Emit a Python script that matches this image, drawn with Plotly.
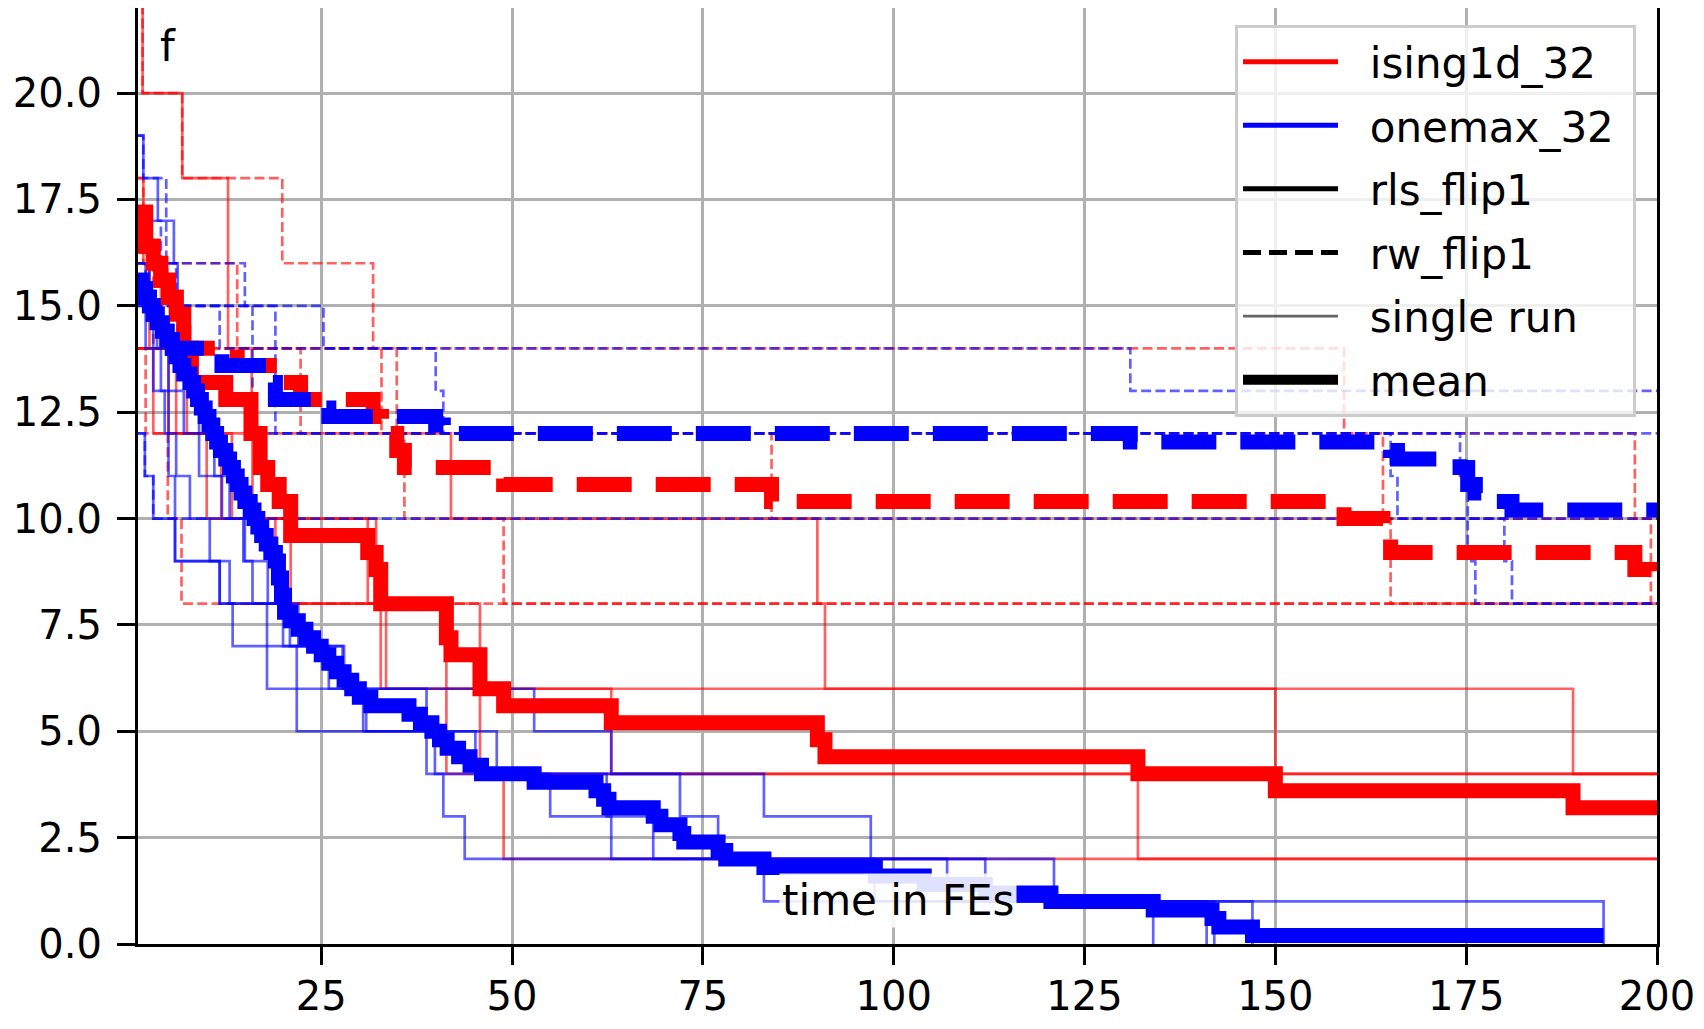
import plotly.graph_objects as go

# ---------------- data (time in FEs, best f so far) ----------------
# ising1d_32 / rls_flip1 : single runs
ising_rls_x = [
    [1, 1.6, 6.8, 12.8, 15.9, 42, 90, 91, 189],
    [1, 1.7, 4, 7.4, 16, 31.1, 32.8, 150],
    [1, 2.5, 6, 13.3, 19, 45.8, 132],
    [1, 3, 11.9, 32.2, 41.4, 63],
    [1, 5, 10, 21, 33.5, 41.4, 48.9],
]
ising_rls_f = [
    [24, 20, 18, 14, 12, 10, 8, 6, 4],
    [18, 16, 14, 12, 10, 8, 6, 4],
    [16, 14, 12, 10, 8, 4, 2],
    [14, 12, 10, 8, 6, 4],
    [14, 12, 10, 8, 6, 4, 2],
]
# ising1d_32 / rw_flip1 : single runs
ising_rw_x = [
    [1, 1.6, 6.8, 19.9, 31.8, 159, 164.1, 165.1],
    [1, 1.7, 14, 22.3, 197.1, 199.2],
    [1, 3, 32.9, 84],
    [1, 34.9, 35.9, 48.9],
    [1, 2, 4.9, 6.7],
]
ising_rw_f = [
    [24, 20, 18, 16, 14, 12, 10, 8],
    [18, 16, 14, 12, 10, 8],
    [16, 14, 12, 10],
    [14, 12, 10, 8],
    [14, 12, 10, 8],
]
# onemax_32 / rls_flip1 : single runs (end when the optimum 0 is reached)
onemax_rls_x = [
    [1, 1.7, 3.6, 5.7, 6.2, 7.8, 9, 11, 13, 14.8, 16, 17.9, 21.8, 30.5, 38.8, 41, 43.8, 121, 193],
    [1, 2, 3, 4, 5, 5.85, 11.7, 13.4, 17.9, 21.8, 48, 55, 63, 83, 134],
    [1, 2, 3, 4.5, 6, 7.8, 10.4, 13, 20, 27.8, 30.9, 39.9, 62.4, 68.5, 107, 141],
    [1, 1.9, 3.0, 5.85, 11.7, 20.9, 28, 38.8, 45.2, 72, 77, 97.5, 142],
    [1, 2.5, 3.5, 5, 7, 9, 12, 15, 18, 22, 26, 52.9, 63, 83, 97, 112, 147],
]
onemax_rls_f = [
    [19, 18, 17, 16, 14, 13, 12, 11, 10, 9, 8, 7, 6, 5, 4, 3, 2, 1, 0],
    [16, 15, 14, 13, 11, 9, 8, 7, 6, 5, 4, 3, 2, 1, 0],
    [15, 14, 13, 12, 11, 10, 9, 8, 7, 6, 5, 4, 3, 2, 1, 0],
    [12, 11, 10, 9, 8, 7, 6, 5, 4, 3, 2, 1, 0],
    [16, 15, 14, 13, 12, 11, 10, 9, 8, 7, 6, 5, 4, 3, 2, 1, 0],
]
# onemax_32 / rw_flip1 : single runs
onemax_rw_x = [
    [1, 1.7, 4.7, 15, 25.3, 131],
    [1, 4, 6, 11.7, 40, 41],
    [1, 2, 16, 165.1, 166],
    [1, 19, 174.2, 175.2, 176.2],
    [1, 1.9, 3.0, 180, 181],
]
onemax_rw_f = [
    [19, 18, 16, 15, 14, 13],
    [17, 16, 15, 14, 13, 12],
    [16, 15, 12, 11, 10],
    [15, 12, 11, 9, 8],
    [12, 11, 10, 9, 8],
]

# means
ising_rls_mean_x = [1, 2, 3, 4, 5, 6, 7, 8, 12.5, 15.8, 17, 18, 19.5, 21, 31.1, 32.2, 32.8,
                    41.4, 42, 45.8, 48.9, 63, 90, 91, 132, 150, 189, 200]
ising_rls_mean_f = [17.2, 16.4, 16.0, 15.6, 15.2, 14.8, 14.0, 13.2, 12.8, 12.0, 11.2, 10.8, 10.4,
                    9.6, 9.2, 8.8, 8.0, 7.2, 6.8, 6.0, 5.6, 5.2, 4.8, 4.4, 4.0, 3.6, 3.2, 3.2]
ising_rw_mean_x = [1, 2, 3, 4, 5, 6, 7, 14, 19.9, 22.3, 31.8, 32.9, 34.9, 35.9, 48.9, 84,
                   159, 164.1, 165.1, 197.1, 199.2, 200]
ising_rw_mean_f = [17.2, 16.4, 16.0, 15.6, 15.2, 14.8, 14.0, 13.6, 13.2, 12.8, 12.4, 12.0, 11.6,
                   11.2, 10.8, 10.4, 10.0, 9.6, 9.2, 8.8, 8.4, 8.4]
onemax_rls_mean_x = [1, 1.5, 2, 2.5, 3, 3.5, 4.2, 4.8, 5.5, 6, 6.5, 7, 7.8, 8.3, 8.8, 9.3, 9.8,
                     10.3, 10.8, 11.3, 11.8, 12.5, 13, 13.5, 14, 14.5, 15, 15.7, 16.2, 16.7,
                     17.2, 17.8, 18.4, 19, 19.4, 19.8, 20.2, 21, 22, 23, 24, 25, 26, 27, 28,
                     29, 30, 31.5, 36.5, 38, 39.5, 40.5, 41.5, 43, 44.5, 46, 52.9, 61, 62,
                     62.7, 68.5, 69.5, 72, 72.5, 77, 78, 83, 97.6, 104, 112, 120.6, 134,
                     141.7, 142.6, 147, 193]
onemax_rls_mean_f = [15.6, 15.4, 15.2, 15.0, 14.8, 14.6, 14.4, 14.2, 14.0, 13.8, 13.6, 13.4,
                     13.2, 13.0, 12.8, 12.6, 12.4, 12.2, 12.0, 11.8, 11.6, 11.4, 11.2, 11.0,
                     10.8, 10.6, 10.4, 10.2, 10.0, 9.8, 9.6, 9.4, 9.2, 9.0, 8.6, 8.2, 7.8,
                     7.6, 7.4, 7.2, 7.0, 6.8, 6.6, 6.4, 6.2, 6.0, 5.8, 5.6, 5.4, 5.2, 5.0,
                     4.8, 4.6, 4.4, 4.2, 4.0, 3.8, 3.6, 3.4, 3.2, 3.0, 2.8, 2.6, 2.4, 2.2,
                     2.0, 1.8, 1.6, 1.4, 1.2, 1.0, 0.8, 0.6, 0.4, 0.2, 0.2]
onemax_rw_mean_x = [1, 1.5, 2, 2.5, 3, 3.5, 4.2, 4.8, 5.5, 12, 18, 19, 25.3, 26, 40, 41, 131,
                    165.1, 166, 174.2, 175.2, 176.2, 180, 181, 200]
onemax_rw_mean_f = [15.6, 15.4, 15.2, 15.0, 14.8, 14.6, 14.4, 14.2, 14.0, 13.6, 13.2, 12.8,
                    12.6, 12.4, 12.2, 12.0, 11.8, 11.6, 11.4, 11.2, 10.8, 10.6, 10.4, 10.2, 10.2]

x_ticks = [25, 50, 75, 100, 125, 150, 175, 200]
y_ticks = [0, 2.5, 5, 7.5, 10, 12.5, 15, 17.5, 20]
X_MAX = 200

# ---------------- styles ----------------
RED = "255,0,0"
BLUE = "0,0,255"
THIN = 2.7
THICK = 15
THIN_DASH = "10px,4.3px"
THICK_DASH = "55px,24px"
ALPHA = 0.62
FONT = "DejaVu Sans"
FS_TICK = 40
FS = 42
NB = "\u00a0"

fig = go.Figure()


def add_runs(xs, fs, rgb, dashed):
    for x, f in zip(xs, fs):
        x = list(x)
        f = list(f)
        if f[-1] != 0:  # run continues until the end of the time axis
            x.append(X_MAX)
            f.append(f[-1])
        fig.add_trace(go.Scatter(
            x=x, y=f, mode="lines", line_shape="hv", showlegend=False,
            hoverinfo="skip",
            line=dict(color=f"rgba({rgb},{ALPHA})", width=THIN,
                      dash=THIN_DASH if dashed else "solid")))


def add_mean(x, f, rgb, dashed):
    fig.add_trace(go.Scatter(
        x=x, y=f, mode="lines", line_shape="hv", showlegend=False,
        hoverinfo="skip",
        line=dict(color=f"rgb({rgb})", width=THICK,
                  dash=THICK_DASH if dashed else "solid")))


add_runs(ising_rls_x, ising_rls_f, RED, False)
add_runs(ising_rw_x, ising_rw_f, RED, True)
add_runs(onemax_rls_x, onemax_rls_f, BLUE, False)
add_runs(onemax_rw_x, onemax_rw_f, BLUE, True)
add_mean(ising_rls_mean_x, ising_rls_mean_f, RED, False)
add_mean(ising_rw_mean_x, ising_rw_mean_f, RED, True)
add_mean(onemax_rls_mean_x, onemax_rls_mean_f, BLUE, False)
add_mean(onemax_rw_mean_x, onemax_rw_mean_f, BLUE, True)

# legend entries
legend_items = [
    ("ising1d_32", "rgb(255,0,0)", 5, "solid"),
    ("onemax_32", "rgb(0,0,255)", 5, "solid"),
    ("rls_flip1", "black", 5, "solid"),
    ("rw_flip1", "black", 5, "18px,8px"),
    ("single run", "rgba(0,0,0,0.6)", 2.7, "solid"),
    ("mean", "black", 15, "solid"),
]
for i, (name, col, w, d) in enumerate(legend_items):
    fig.add_trace(go.Scatter(
        x=[None], y=[None], mode="lines", name=NB * 2 + name + NB,
        legendgroup=f"g{i}", line=dict(color=col, width=w, dash=d)))

axis_common = dict(
    ticks="outside", ticklen=18, tickwidth=3.3, tickcolor="black",
    showline=True, linewidth=3.3, linecolor="black", mirror=True,
    showgrid=True, gridcolor="#b0b0b0", gridwidth=2.5, zeroline=False,
    tickfont=dict(family=FONT, size=FS_TICK, color="black"),
)

# the page adds an 8px body margin, so the figure is 8px smaller than the window
fig.update_layout(
    width=1696, height=1021,
    margin=dict(l=130, r=47, t=0, b=85, autoexpand=False),
    plot_bgcolor="white", paper_bgcolor="white",
    font=dict(family=FONT, size=FS, color="black"),
    xaxis=dict(range=[1, 200], tickvals=x_ticks, ticklabelstandoff=-3, **axis_common),
    yaxis=dict(range=[0, 22], tickvals=y_ticks, tickformat=".1f", ticklabelstandoff=7,
               **axis_common),
    legend=dict(x=0.7222, y=0.982, xanchor="left", yanchor="top",
                bgcolor="rgba(255,255,255,0.8)", bordercolor="#cccccc", borderwidth=3,
                font=dict(family=FONT, size=FS, color="black"),
                tracegroupgap=6, itemwidth=95),
    annotations=[
        dict(text="f", xref="paper", yref="paper", x=0.013, y=0.9594, xanchor="left",
             yanchor="middle", showarrow=False,
             font=dict(family=FONT, size=FS, color="black")),
        dict(text="time in FEs", xref="paper", yref="paper", x=0.5003, y=0.047,
             xanchor="center", yanchor="middle", showarrow=False,
             bgcolor="rgba(255,255,255,0.88)", borderpad=2,
             font=dict(family=FONT, size=FS, color="black")),
    ],
)

fig.write_html("out.html")
